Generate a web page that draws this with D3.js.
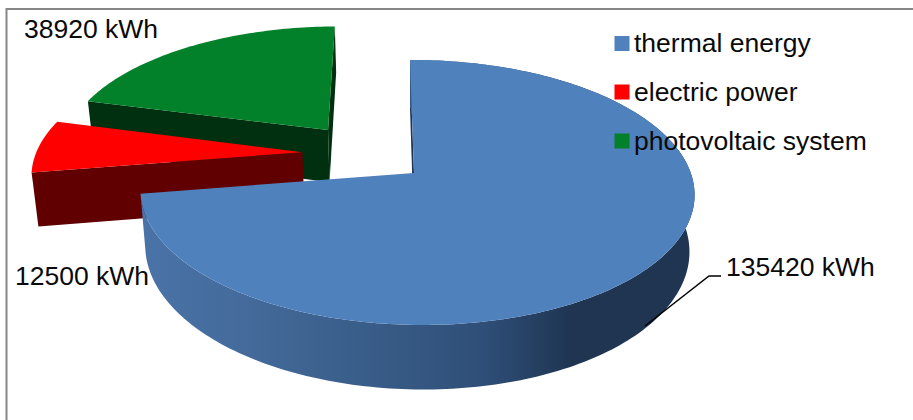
<!DOCTYPE html>
<html><head><meta charset="utf-8">
<script src="https://cdnjs.cloudflare.com/ajax/libs/d3/7.8.5/d3.min.js"></script>
<style>html,body{margin:0;padding:0;background:#fff}svg{display:block}text{font-family:"Liberation Sans",Arial,sans-serif;fill:#0a0a0a}</style>
</head><body><script>
const categories = ["thermal energy","electric power","photovoltaic system"];
const values = [135420,12500,38920];
const unit = "kWh";

const W=913,H=420;
const svg=d3.select("body").append("svg").attr("width",W).attr("height",H);
const topColors=["#4f81bd","#ff0000","#03802a"];
const wallColors=["#1f3552","#600000","#003010"];
const explode=[[0,0],[-0.416,0.1645],[-0.325,0.349]];
const radius=[1,1.013,1.012];
const labelPos=[[726,276],[15,285],[24,38]];
const legendY=[43.5,92,141];

const defs=svg.append("defs");
const g=defs.append("linearGradient").attr("id","side").attr("gradientUnits","userSpaceOnUse")
  .attr("x1",140).attr("x2",693).attr("y1",0).attr("y2",0);
[[0,"#4a73a8"],[0.2,"#436a9a"],[0.45,"#375a85"],[0.62,"#2f4f78"],[0.78,"#1f3552"],[1,"#1f3552"]]
 .forEach(s=>g.append("stop").attr("offset",s[0]).attr("stop-color",s[1]));

// planar pie -> screen, light perspective projection
const cx=414,cy=173,a=274,b=129.6,p=0.1472,q=-0.010,e=-4.6,d=55,vx=410,conv=0.018;
function proj(X,Z,h){
  const w=1+p*Z+q*X;
  let x=cx+(a*X+e*Z)/w, y=cy+(-b*Z+d*h)/w;
  x=x-(x-vx)*conv*h;
  return [x,y];
}
const pie=d3.pie().sort(null).value(v=>v)(values);
const line=d3.line();
function rim(i,a0,a1,h){
  const n=Math.max(2,Math.ceil(Math.abs(a1-a0)/0.02));
  const [ox,oz]=explode[i], r=radius[i];
  return d3.range(n+1).map(k=>{const t=a0+(a1-a0)*k/n;return proj(ox+r*Math.sin(t),oz+r*Math.cos(t),h);});
}
function centre(i,h){return proj(explode[i][0],explode[i][1],h);}
function wall(i,ang){
  const pts=[centre(i,0),rim(i,ang,ang,0)[0],rim(i,ang,ang,1)[0],centre(i,1)];
  svg.append("path").attr("d",line(pts)+"Z").attr("fill",wallColors[i]);
}
function topFace(i){
  const s=pie[i];
  svg.append("path").attr("d",line([centre(i,0),...rim(i,s.startAngle,s.endAngle,0)])+"Z").attr("fill",topColors[i]);
}
// back to front: green, red, blue
wall(2,pie[2].startAngle); wall(2,pie[2].endAngle); topFace(2);
wall(1,pie[1].startAngle); topFace(1);
wall(0,pie[0].startAngle);
const sa=pie[0].startAngle,ea=pie[0].endAngle;
svg.append("path").attr("d",line([...rim(0,sa,ea,0),...rim(0,ea,sa,1)])+"Z").attr("fill","url(#side)");
topFace(0);

// frame
svg.append("path").attr("d",line([[6.5,H],[6.5,9],[W,9]])).attr("fill","none").attr("stroke","#868686").attr("stroke-width",2);

// leader
svg.append("path").attr("d",line([[645,326],[709,276],[721,276]])).attr("fill","none").attr("stroke","#000").attr("stroke-width",1.5);

// labels
values.forEach((v,i)=>{
  svg.append("text").attr("x",labelPos[i][0]).attr("y",labelPos[i][1]).attr("font-size",26.5).text(v+" "+unit);
});
// legend
categories.forEach((c,i)=>{
  svg.append("rect").attr("x",614.5).attr("y",legendY[i]-7.5).attr("width",15).attr("height",15).attr("fill",topColors[i]);
  svg.append("text").attr("x",634).attr("y",legendY[i]+8.5).attr("font-size",26.5).text(c);
});
</script></body></html>
